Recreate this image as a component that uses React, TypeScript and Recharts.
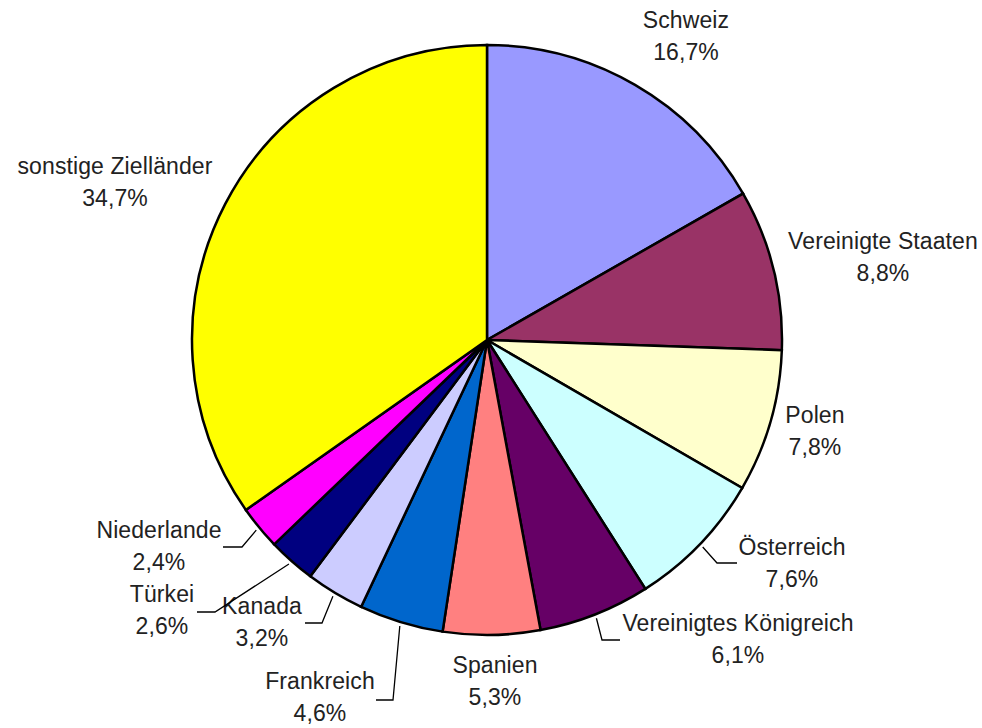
import React from "react";
import { PieChart, Pie, Cell } from "recharts";

// ---- data ----
const countries = [
  "Schweiz",
  "Vereinigte Staaten",
  "Polen",
  "Österreich",
  "Vereinigtes Königreich",
  "Spanien",
  "Frankreich",
  "Kanada",
  "Türkei",
  "Niederlande",
  "sonstige Zielländer",
];
const shares = [16.7, 8.8, 7.8, 7.6, 6.1, 5.3, 4.6, 3.2, 2.6, 2.4, 34.7];
const colors = [
  "#9999FF",
  "#993366",
  "#FFFFCC",
  "#CCFFFF",
  "#660066",
  "#FF8080",
  "#0066CC",
  "#CCCCFF",
  "#000080",
  "#FF00FF",
  "#FFFF00",
];

// ---- label layout (offsets from pie centre, in px) ----
type Layout = { dx: number; dy: number; leader?: [number, number, number] };
const labelLayout: Layout[] = [
  { dx: 199, dy: -304 },
  { dx: 396, dy: -83 },
  { dx: 328, dy: 91 },
  { dx: 305, dy: 223, leader: [-75, -55, 0] },
  { dx: 251, dy: 299, leader: [-136, -118, 1] },
  { dx: 8, dy: 341 },
  { dx: -167, dy: 357, leader: [73, 56, 3] },
  { dx: -225, dy: 282, leader: [60, 43, 1] },
  { dx: -325, dy: 270, leader: [53, 35, 2] },
  { dx: -328, dy: 206, leader: [83, 64, 1] },
  { dx: -372, dy: -158 },
];

const data = countries.map((name, i) => ({ name, value: shares[i] }));

const RAD = Math.PI / 180;
const fmt = (v: number) => v.toFixed(1).replace(".", ",") + "%";

const textStyle = {
  fontFamily: "Liberation Sans, Arial, sans-serif",
  fontSize: 23,
  letterSpacing: 0.1,
  fill: "#222",
};

const renderLabel = (props: any) => {
  const { cx, cy, midAngle, outerRadius, index } = props;
  const lay = labelLayout[index];
  const x = cx + lay.dx;
  const y = cy + lay.dy;
  let leader = null;
  if (lay.leader) {
    const [ex, hx, ey] = lay.leader;
    const sx = cx + (outerRadius + 4) * Math.cos(-midAngle * RAD);
    const sy = cy + (outerRadius + 4) * Math.sin(-midAngle * RAD);
    leader = (
      <polyline
        points={`${sx},${sy} ${x + ex},${y + ey} ${x + hx},${y + ey}`}
        fill="none"
        stroke="#000"
        strokeWidth={1.3}
      />
    );
  }
  return (
    <g key={`lbl-${index}`}>
      {leader}
      <text x={x} y={y - 16} textAnchor="middle" dominantBaseline="central" style={textStyle}>
        {countries[index]}
      </text>
      <text x={x} y={y + 16} textAnchor="middle" dominantBaseline="central" style={textStyle}>
        {fmt(shares[index])}
      </text>
    </g>
  );
};

export default function App() {
  return (
    <div style={{ position: "absolute", left: 0, top: 0, background: "#fff" }}>
      <PieChart width={982} height={728} margin={{ top: 0, right: 0, bottom: 0, left: 0 }}>
        <Pie
          data={data}
          dataKey="value"
          nameKey="name"
          cx={487}
          cy={340}
          outerRadius={295}
          innerRadius={0}
          startAngle={90}
          endAngle={-270}
          stroke="#000"
          strokeWidth={2.5}
          label={renderLabel}
          labelLine={false}
          isAnimationActive={false}
        >
          {data.map((d, i) => (
            <Cell key={d.name} fill={colors[i]} stroke="#000" strokeWidth={2.5} />
          ))}
        </Pie>
      </PieChart>
    </div>
  );
}
